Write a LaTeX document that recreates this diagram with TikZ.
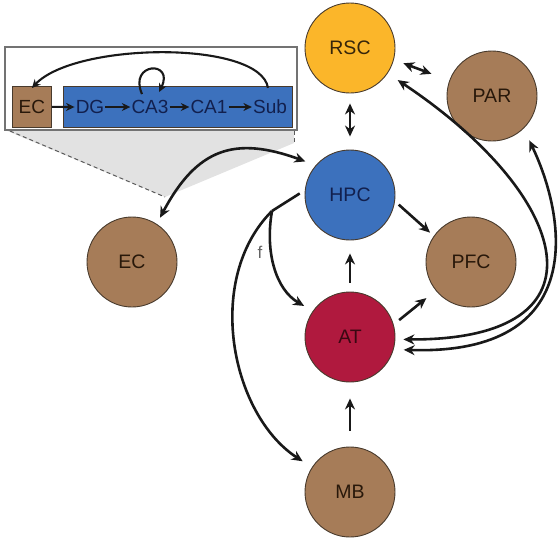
\documentclass[tikz,border=0pt]{standalone}
\usepackage{fontspec}
\setmainfont{Liberation Sans}
\usetikzlibrary{arrows.meta,calc}
\definecolor{rscC}{RGB}{251,182,42}
\definecolor{hpcC}{RGB}{60,113,189}
\definecolor{atC}{RGB}{176,25,62}
\definecolor{brownC}{RGB}{166,124,88}
\definecolor{edgeC}{RGB}{72,58,44}
\definecolor{brT}{RGB}{40,24,10}
\definecolor{hpcT}{RGB}{18,32,78}
\definecolor{atT}{RGB}{58,8,18}
\definecolor{rscT}{RGB}{55,38,10}
\definecolor{lineC}{RGB}{25,25,25}
\definecolor{shadeC}{RGB}{226,226,226}
\definecolor{frameC}{RGB}{115,115,115}
\definecolor{dashC}{RGB}{90,90,90}
\definecolor{fC}{RGB}{100,100,100}
\begin{document}
\begin{tikzpicture}[x=1pt,y=-1pt,
  region/.style={circle, minimum size=90pt, inner sep=0pt, draw=edgeC, line width=0.9pt, font=\fontsize{19.5}{22}\selectfont},
  wire/.style={line width=2.6pt, draw=lineC},
  conn/.style={wire, -{Stealth[length=11pt,width=10pt]}},
  biconn/.style={wire, {Stealth[length=11pt,width=10pt]}-{Stealth[length=11pt,width=10pt]}},
  smallconn/.style={line width=2.1pt, draw=lineC, -{Stealth[length=8.5pt,width=8pt]}},
  lab/.style={inner sep=1pt, font=\fontsize{19}{21}\selectfont, text=hpcT},
  dashline/.style={dashed, draw=dashC, line width=1pt, dash pattern=on 4pt off 3pt},
]
\useasboundingbox (0,0) rectangle (559,541);

% inset zoom shading
\fill[shadeC] (5,130) -- (294,130) -- (294,143) -- (165,197) -- cycle;
\draw[dashline] (10,131) -- (165,197);
\draw[dashline] (294,131) -- (294,143);

% inset
\node[draw=frameC, line width=1.5pt, fill=white, minimum width=292pt, minimum height=83pt, inner sep=0pt, anchor=north west] (inset) at (4,46) {};
\node[fill=brownC, draw=edgeC, line width=0.8pt, minimum width=39pt, minimum height=41pt, inner sep=0pt, anchor=north west, font=\fontsize{19}{21}\selectfont, text=brT] (ECb) at (12,86) {EC};
\node[fill=hpcC, draw=edgeC, line width=0.8pt, minimum width=229pt, minimum height=41pt, inner sep=0pt, anchor=north west] (band) at (63,86) {};
\node[lab] (DG) at (90,107) {DG};
\node[lab] (CA3) at (150,107) {CA3};
\node[lab] (CA1) at (209,107) {CA1};
\node[lab] (Sub) at (270,107) {Sub};
\draw[smallconn] (ECb.east) -- (DG.west);
\draw[smallconn] (DG.east) -- (CA3.west);
\draw[smallconn] (CA3.east) -- (CA1.west);
\draw[smallconn] (CA1.east) -- (Sub.west);
\draw[smallconn] ([shift={(-8,-5)}]CA3.north) .. controls +(-14,-32) and +(16,-32) .. ([shift={(9,-7)}]CA3.north);
\draw[smallconn] ([shift={(-2,-11)}]Sub.north) .. controls +(-8,-48) and +(43,-46) .. ([yshift=-2pt]ECb.north);

% regions
\node[region, fill=rscC, text=rscT] (RSC) at (350,48) {RSC};
\node[region, fill=brownC, text=brT] (PAR) at (492,96) {PAR};
\node[region, fill=hpcC, text=hpcT] (HPC) at (350,195) {HPC};
\node[region, fill=brownC, text=brT] (PFC) at (471,262) {PFC};
\node[region, fill=brownC, text=brT] (ECc) at (132,262) {EC};
\node[region, fill=atC, text=atT] (AT) at (350,337) {AT};
\node[region, fill=brownC, text=brT] (MB) at (350,492) {MB};

% straight connectors
\draw[biconn, shorten <=10pt, shorten >=13pt] (RSC.south) -- (HPC.north);
\draw[biconn, shorten <=10pt, shorten >=19pt] (RSC.-15) -- (PAR.160);
\draw[conn, shorten <=5pt, shorten >=5pt] (HPC.-8) -- (PFC.145);
\draw[conn, shorten <=7pt, shorten >=12pt] (AT.16) -- (PFC.-141);
\draw[conn, shorten <=9pt, shorten >=13pt] (AT.north) -- (HPC.south);
\draw[conn, shorten <=16pt, shorten >=16pt] (MB.north) -- (AT.south);

% EC <-> HPC
\draw[biconn, shorten <=7pt, shorten >=11pt] (ECc.57) to[out=62,in=160,looseness=1.3] (HPC.139);

% HPC -> AT (f) and HPC -> MB
\coordinate (br) at (272,211);
\draw[wire, shorten <=6pt] (HPC.174) -- (br);
\draw[conn, shorten >=10pt] (br) to[out=-100,in=150] (AT.145);
\draw[conn, shorten >=11pt] (br) to[out=-135,in=147,looseness=0.95] (MB.147);
\node[text=fC, font=\fontsize{17}{19}\selectfont] (flab) at (260,252) {f};

% long curves AT <-> RSC, AT <-> PAR
\draw[biconn, shorten <=8pt, shorten >=12pt] (AT.-3) .. controls +(220,1) and +(183,122) .. (RSC.-34);
\draw[biconn, shorten <=10pt, shorten >=13pt] (AT.-16) .. controls +(197,6) and +(42,87) .. (PAR.-46);
\end{tikzpicture}
\end{document}
